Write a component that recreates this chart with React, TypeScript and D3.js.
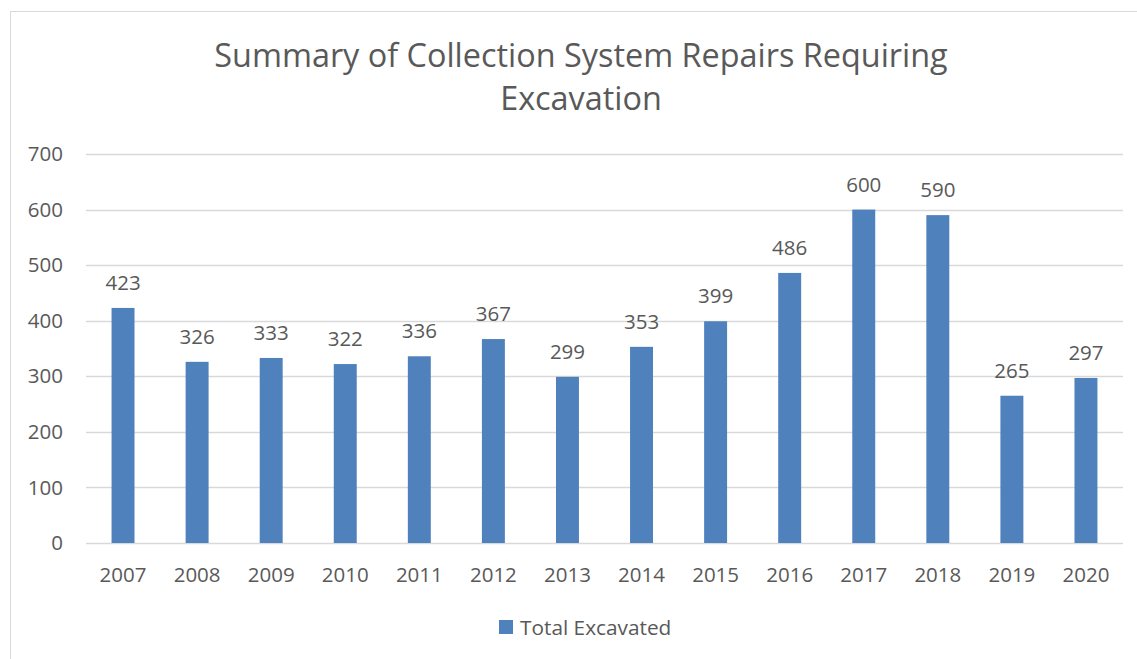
import React from "react";
import * as d3 from "d3";

const years = ["2007","2008","2009","2010","2011","2012","2013","2014","2015","2016","2017","2018","2019","2020"];
const totals = [423, 326, 333, 322, 336, 367, 299, 353, 399, 486, 600, 590, 265, 297];
const yTicks = [0, 100, 200, 300, 400, 500, 600, 700];
const titleLines = ["Summary of Collection System Repairs Requiring", "Excavation"];
const seriesName = "Total Excavated";

const W = 1137, H = 659;
const FONT = "'Open Sans', sans-serif";
const TXT = "#595959";
const BAR = "#4F81BD";

export default function App() {
  const x = d3.scaleBand<string>().domain(years).range([86, 1123]).paddingInner(0.69).paddingOuter(0.345);
  const y = d3.scaleLinear().domain([0, 700]).range([543, 154]);
  return (
    <svg width={W} height={H} style={{ position: "absolute", left: 0, top: 0, background: "#fff" }}>
      <rect x={10.5} y={11.5} width={W + 20} height={H + 20} fill="#fff" stroke="#d9d9d9" strokeWidth={1} />
      {titleLines.map((t, i) => (
        <text key={i} x={581} y={67 + i * 43} textAnchor="middle" fontFamily={FONT} fontSize={32.4} fill={TXT}>{t}</text>
      ))}
      {yTicks.map(t => (
        <g key={t}>
          <line x1={86} x2={1123} y1={Math.round(y(t)) + 0.5} y2={Math.round(y(t)) + 0.5} stroke="#d9d9d9" strokeWidth={1.5} />
          <text x={63} y={y(t)} dy="0.35em" textAnchor="end" fontFamily={FONT} fontSize={20.5} fill={TXT}>{t}</text>
        </g>
      ))}
      {years.map((yr, i) => (
        <g key={yr}>
          <rect x={x(yr)} y={y(totals[i])} width={x.bandwidth()} height={y(0) - y(totals[i])} fill={BAR} />
          <text x={(x(yr) as number) + x.bandwidth() / 2} y={y(totals[i]) - 18} textAnchor="middle" fontFamily={FONT} fontSize={20.5} fill={TXT}>{totals[i]}</text>
          <text x={(x(yr) as number) + x.bandwidth() / 2} y={582} textAnchor="middle" fontFamily={FONT} fontSize={20.5} fill={TXT}>{yr}</text>
        </g>
      ))}
      <rect x={499} y={620} width={14} height={14} fill={BAR} />
      <text x={520} y={635} fontFamily={FONT} fontSize={20.8} fill={TXT}>{seriesName}</text>
    </svg>
  );
}
